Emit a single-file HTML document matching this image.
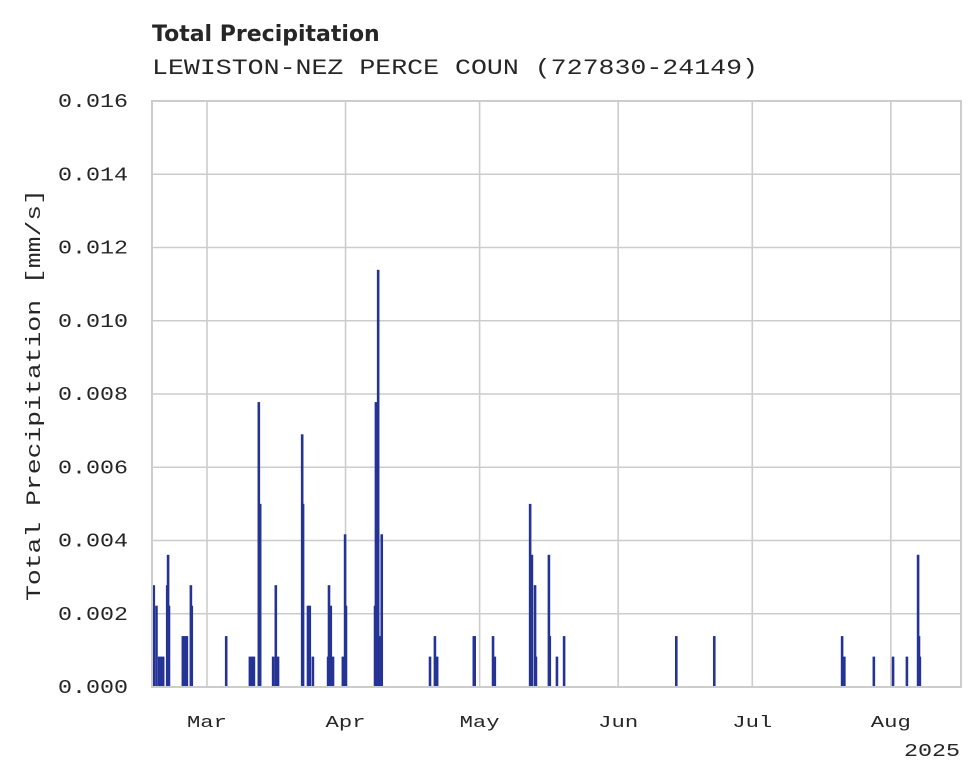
<!DOCTYPE html>
<html><head><meta charset="utf-8"><style>
body{margin:0;background:#fff}
svg{display:block}
.mono{font-family:"Liberation Mono","DejaVu Sans Mono",monospace;fill:#262626}
</style></head><body>
<svg id="chart" width="980" height="783" viewBox="0 0 980 783" xmlns="http://www.w3.org/2000/svg">
<text x="152" y="41" font-family="DejaVu Sans,sans-serif" font-weight="bold" font-size="22" fill="#262626">Total Precipitation</text>
<text class="mono" x="152" y="74" font-size="22" textLength="606" lengthAdjust="spacingAndGlyphs">LEWISTON-NEZ PERCE COUN (727830-24149)</text>
<g id="grid"></g>
<g id="bars"></g>
<rect x="152" y="101" width="809" height="586" fill="none" stroke="#cccccc" stroke-width="2"/>
<g id="labels"></g>
<text class="mono" transform="translate(40,395) rotate(-90)" text-anchor="middle" font-size="20" textLength="412" lengthAdjust="spacingAndGlyphs">Total Precipitation [mm/s]</text>
<text class="mono" x="960" y="756" text-anchor="end" font-size="18" textLength="56" lengthAdjust="spacingAndGlyphs">2025</text>
</svg>
<script>
// day-of-year (2025) of each precipitation record
const barDays = [47.1,47.7,48.3,48.7,49.2,50.1,50.3,50.5,53.6,54.1,54.5,55.4,55.6,63.3,68.6,69.1,69.5,70.6,70.9,73.8,74.4,74.9,80.3,80.5,81.6,82.0,82.7,86.1,86.3,86.7,87.2,89.4,89.9,90.1,96.6,96.8,97.3,97.7,98.1,108.9,110.0,110.5,118.7,118.9,123.0,123.4,131.3,131.7,132.4,132.6,135.5,135.7,137.3,138.9,164.0,172.5,201.1,201.6,208.2,212.5,215.6,218.1,218.3,218.5];
const barValues = [0.00278,0.00222,0.00083,0.00083,0.00083,0.00278,0.00361,0.00222,0.00139,0.00139,0.00139,0.00278,0.00222,0.00139,0.00083,0.00083,0.00083,0.00778,0.005,0.00083,0.00278,0.00083,0.0069,0.005,0.00222,0.00222,0.00083,0.00083,0.00278,0.00222,0.00083,0.00083,0.00417,0.00222,0.00222,0.00778,0.01139,0.00139,0.00417,0.00083,0.00139,0.00083,0.00139,0.00139,0.00139,0.00083,0.005,0.00361,0.00278,0.00083,0.00361,0.00139,0.00083,0.00139,0.00139,0.00139,0.00139,0.00083,0.00083,0.00083,0.00083,0.00361,0.00139,0.00083];
const yTicks = [0,0.002,0.004,0.006,0.008,0.010,0.012,0.014,0.016];
const yTickLabels = ["0.000","0.002","0.004","0.006","0.008","0.010","0.012","0.014","0.016"];
const monthDays = [59,90,120,151,181,212];
const monthLabels = ["Mar","Apr","May","Jun","Jul","Aug"];

const NS="http://www.w3.org/2000/svg";
const X0=152,X1=961,Y0=687,Y1=101;
const dMin=46.7,dMax=227.7;
const xs=d=>X0+(d-dMin)/(dMax-dMin)*(X1-X0);
const ys=v=>Y0-(v/0.016)*(Y0-Y1);
function mk(tag,attrs,parent){const e=document.createElementNS(NS,tag);for(const k in attrs)e.setAttribute(k,attrs[k]);parent.appendChild(e);return e;}
const grid=document.getElementById('grid'),bars=document.getElementById('bars'),labels=document.getElementById('labels');
yTicks.forEach((t,i)=>{
  const l=mk('line',{x1:X0,x2:X1,y1:ys(t),y2:ys(t),stroke:'#cccccc','stroke-width':1.6},grid);
  
  
  const tx=mk('text',{x:128,y:ys(t)+6,'text-anchor':'end','font-size':19,class:'mono',textLength:70,lengthAdjust:'spacingAndGlyphs'},labels);
  tx.textContent=yTickLabels[i];
  
  
});
monthDays.forEach((d,i)=>{
  const l=mk('line',{x1:xs(d),x2:xs(d),y1:Y1,y2:Y0,stroke:'#cccccc','stroke-width':1.6},grid);
  
  
  const tx=mk('text',{x:xs(d),y:727,'text-anchor':'middle','font-size':17,class:'mono',textLength:40,lengthAdjust:'spacingAndGlyphs'},labels);
  tx.textContent=monthLabels[i];
  
  
});
barDays.forEach((d,i)=>{
  const x=xs(d),y=ys(barValues[i]);
  const r=mk('rect',{x:x-1.3,y:y,width:2.6,height:Y0-y,fill:'#253494'},bars);
  
  
});
</script>
</body></html>
